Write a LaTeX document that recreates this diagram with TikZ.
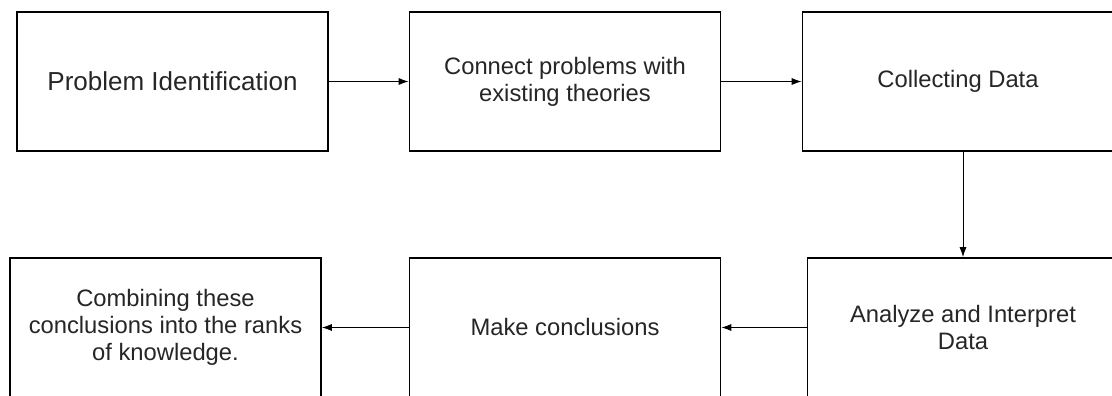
\documentclass[tikz,border=0pt]{standalone}
\usepackage{fontspec}
\setmainfont{Liberation Sans}
\usetikzlibrary{arrows.meta}
\usetikzlibrary{positioning}

\begin{document}
\begin{tikzpicture}[x=0.025cm, y=-0.025cm,
    stagebox/.style={draw, line width=1.4pt, minimum width=311*0.025cm, minimum height=139*0.025cm,
      inner sep=0pt, align=center, text=black!85, font=\fontsize{16.9pt}{19pt}\selectfont},
    flow/.style={-{Latex[length=7pt, width=5pt]}, line width=0.6pt}]
    \clip (0, 0) rectangle (1112, 395);
    \fill [white] (0, 0) rectangle (1112, 395);

    \node [stagebox, font=\fontsize{18.5pt}{21pt}\selectfont] (ident) at (172.5, 81.5) {Problem Identification};
    \node [stagebox] (theory) at (565, 81.5) {Connect problems with\\existing theories};
    \node [stagebox] (collect) at (958, 81.5) {Collecting Data};
    \node [stagebox] (analyze) at (963, 327.5) {Analyze and Interpret\\Data};
    \node [stagebox] (conclude) at (565, 327.5) {Make conclusions};
    \node [stagebox] (combine) at (165.5, 327.5) {Combining these\\conclusions into the ranks\\of knowledge.};

    \draw [flow] (ident) -- (theory);
    \draw [flow] (theory) -- (collect);
    \draw [flow] (collect.south -| analyze.north) -- (analyze.north);
    \draw [flow] (analyze) -- (conclude);
    \draw [flow] (conclude) -- (combine);
\end{tikzpicture}
\end{document}
